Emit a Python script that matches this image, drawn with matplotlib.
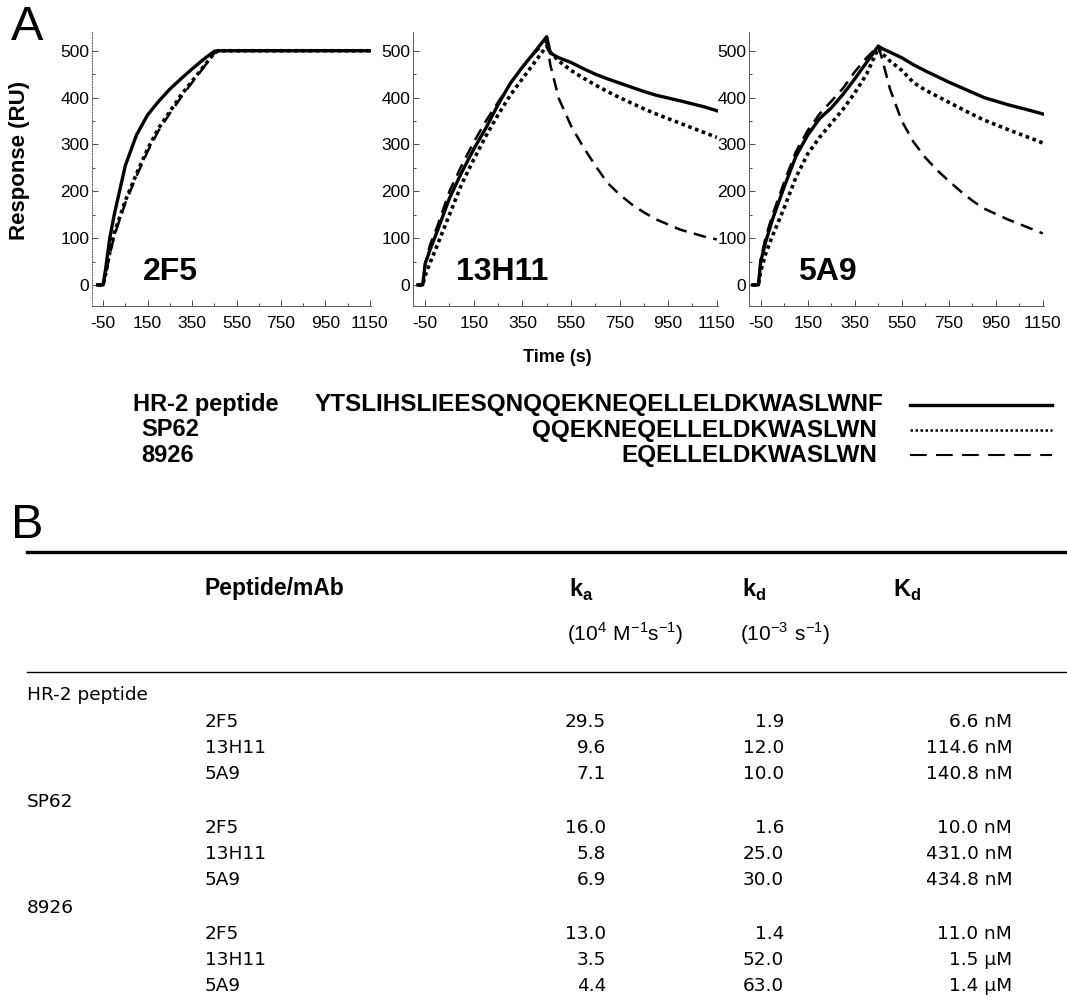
import numpy as np
import matplotlib
matplotlib.use("Agg")
import matplotlib.pyplot as plt

plt.rcParams['font.family'] = ['Liberation Sans', 'DejaVu Sans']
plt.rcParams['mathtext.fontset'] = 'custom'
plt.rcParams['mathtext.rm'] = 'Liberation Sans'
plt.rcParams['mathtext.bf'] = 'Liberation Sans:bold'
plt.rcParams['axes.unicode_minus'] = False

W, H = 1067, 1006

# --- sensorgram data (time in s, response in RU) ---
t_2f5 = [-75, -50, -40, -20, 0, 50, 100, 150, 200, 250, 300, 350, 400, 450, 470, 600, 800, 1000, 1150]
hr2_2f5 = [0, 0, 30, 100, 150, 255, 320, 363, 392, 418, 440, 461, 481, 499, 500, 500, 500, 500, 500]
sp62_2f5 = [0, 0, 20, 70, 110, 180, 237, 290, 335, 370, 405, 435, 465, 495, 500, 500, 500, 500, 500]
p8926_2f5 = [0, 0, 18, 65, 105, 175, 232, 285, 330, 366, 400, 432, 463, 495, 500, 500, 500, 500, 500]

t_13h11 = [-80, -60, -50, -30, 0, 50, 100, 150, 200, 250, 300, 350, 400, 450, 465, 500, 550,
           600, 650, 700, 750, 800, 850, 900, 1000, 1100, 1150]
hr2_13h11 = [0, 0, 45, 75, 115, 185, 240, 290, 335, 385, 430, 465, 497, 530, 495, 485, 475,
             462, 450, 440, 431, 422, 413, 405, 393, 380, 372]
sp62_13h11 = [0, 0, 20, 47, 85, 150, 215, 268, 318, 363, 405, 440, 475, 510, 497, 478, 458,
              442, 427, 413, 400, 388, 376, 365, 345, 325, 315]
p8926_13h11 = [0, 0, 45, 85, 125, 200, 255, 305, 350, 390, 430, 465, 495, 520, 470, 398, 340,
               295, 255, 218, 193, 172, 155, 140, 118, 103, 97]

t_5a9 = [-85, -60, -50, -30, 0, 50, 100, 150, 200, 250, 300, 350, 400, 450, 465, 500, 550,
         600, 650, 700, 750, 800, 850, 900, 1000, 1100, 1150]
hr2_5a9 = [0, 0, 50, 90, 140, 210, 275, 320, 355, 378, 407, 440, 475, 510, 505, 497, 485,
           470, 457, 445, 433, 422, 411, 400, 385, 372, 365]
sp62_5a9 = [0, 0, 30, 65, 105, 165, 230, 280, 315, 345, 375, 410, 450, 505, 495, 478, 458,
            432, 416, 403, 390, 377, 364, 352, 332, 313, 303]
p8926_5a9 = [0, 0, 55, 100, 150, 220, 285, 330, 365, 392, 420, 455, 485, 510, 485, 418, 350,
             305, 272, 245, 222, 200, 180, 163, 140, 120, 110]

antibodies = ["2F5", "13H11", "5A9"]
peptides = ["HR-2 peptide", "SP62", "8926"]
sequences = ["YTSLIHSLIEESQNQQEKNEQELLELDKWASLWNF", "QQEKNEQELLELDKWASLWN", "EQELLELDKWASLWN"]

# --- kinetics table ---
ka = [[29.5, 9.6, 7.1], [16.0, 5.8, 6.9], [13.0, 3.5, 4.4]]
kd = [[1.9, 12.0, 10.0], [1.6, 25.0, 30.0], [1.4, 52.0, 63.0]]
Kd = [[6.6, 114.6, 140.8], [10.0, 431.0, 434.8], [11.0, 1.5, 1.4]]
Kd_unit = [["nM", "nM", "nM"], ["nM", "nM", "nM"], ["nM", "µM", "µM"]]

panels = [
    (t_2f5, [hr2_2f5, sp62_2f5, p8926_2f5], (92, 371)),
    (t_13h11, [hr2_13h11, sp62_13h11, p8926_13h11], (413, 718)),
    (t_5a9, [hr2_5a9, sp62_5a9, p8926_5a9], (749, 1044)),
]
styles = [dict(ls='-', lw=2.4), dict(ls=(0, (1, 1)), lw=2.6), dict(ls=(0, (5, 3)), lw=1.8)]
leg_styles = [dict(ls='-', lw=2.4), dict(ls=(0, (1, 1)), lw=1.8), dict(ls=(0, (8, 4.5)), lw=1.5)]


def fx(x):
    return x / W


def fy(y):
    return 1 - y / H


fig = plt.figure(figsize=(W / 100, H / 100), dpi=100)

ytop, ybot = 32, 306
for i, (t, curves, (x0, x1)) in enumerate(panels):
    ax = fig.add_axes([fx(x0), fy(ybot), (x1 - x0) / W, (ybot - ytop) / H])
    for y, st in zip(curves, styles):
        ax.plot(t, y, color='black', **st)
    ax.set_xlim(-100, 1155)
    ax.set_ylim(-45, 540)
    ax.set_xticks(np.arange(-50, 1151, 200))
    ax.set_xticks(np.arange(50, 1100, 200), minor=True)
    ax.set_yticks(np.arange(0, 501, 100))
    ax.set_yticks(np.arange(50, 500, 100), minor=True)
    ax.tick_params(which='both', direction='in', labelsize=12.5, width=0.7, color='0.3')
    ax.tick_params(which='major', length=4)
    ax.tick_params(which='minor', length=2)
    ax.tick_params(axis='x', pad=7)
    ax.tick_params(axis='y', pad=2)
    for s in ['top', 'right']:
        ax.spines[s].set_visible(False)
    for s in ['left', 'bottom']:
        ax.spines[s].set_linewidth(0.7)
        ax.spines[s].set_color('0.35')
    if i == 0:
        ax.spines['left'].set_linestyle(':')
    ax.patch.set_alpha(0)

# panel labels
for name, xc in zip(antibodies, [170, 502, 827]):
    fig.text(fx(xc), fy(272), name, ha='center', va='center', fontsize=23, fontweight='bold')

fig.text(fx(11), fy(40), "A", ha='left', va='baseline', fontsize=35)
fig.text(fx(11), fy(538), "B", ha='left', va='baseline', fontsize=35)
fig.text(fx(20), fy(160), "Response (RU)", rotation=90, ha='center', va='center',
         fontsize=16, fontweight='bold')
fig.text(fx(557), fy(357), "Time (s)", ha='center', va='center', fontsize=13, fontweight='bold')

# legend of peptides
leg_y = [405, 430, 455]
leg_x = [133, 141, 141]
seq_end = [883, 877, 877]
for name, seq, y, x, xe, st in zip(peptides, sequences, leg_y, leg_x, seq_end, leg_styles):
    fig.text(fx(x), fy(y), name, ha='left', va='center', fontsize=17, fontweight='bold')
    fig.text(fx(xe), fy(y), seq, ha='right', va='center', fontsize=17.5, fontweight='bold')
    fig.add_artist(plt.Line2D([fx(910), fx(1052)], [fy(y), fy(y)], color='black',
                              transform=fig.transFigure, **st))

# table
fig.add_artist(plt.Line2D([fx(27), 1], [fy(552), fy(552)], color='black', lw=2.4,
                          transform=fig.transFigure))
fig.add_artist(plt.Line2D([fx(27), 1], [fy(672), fy(672)], color='black', lw=1.0,
                          transform=fig.transFigure))
fig.text(fx(205), fy(588), "Peptide/mAb", ha='left', va='center', fontsize=16.5, fontweight='bold')
fig.text(fx(569), fy(590), r"$\mathbf{k}_\mathbf{a}$", ha='left', va='center', fontsize=17)
fig.text(fx(742), fy(590), r"$\mathbf{k}_\mathbf{d}$", ha='left', va='center', fontsize=17)
fig.text(fx(893), fy(590), r"$\mathbf{K}_\mathbf{d}$", ha='left', va='center', fontsize=17)
fig.text(fx(567), fy(634), r"$(10^{4}\ \mathrm{M^{-1}s^{-1}})$", ha='left', va='center', fontsize=15)
fig.text(fx(740), fy(634), r"$(10^{-3}\ \mathrm{s^{-1}})$", ha='left', va='center', fontsize=15)

tfont = dict(fontsize=13.3, family='DejaVu Sans', va='center')
row_y = [[722, 748, 774], [828, 854, 880], [934, 960, 986]]
pep_y = [695, 802, 908]
for p in range(3):
    fig.text(fx(27), fy(pep_y[p]), peptides[p], ha='left', **tfont)
    for m in range(3):
        y = fy(row_y[p][m])
        fig.text(fx(205), y, antibodies[m], ha='left', **tfont)
        fig.text(fx(606), y, f"{ka[p][m]:.1f}", ha='right', **tfont)
        fig.text(fx(784), y, f"{kd[p][m]:.1f}", ha='right', **tfont)
        fig.text(fx(1012), y, f"{Kd[p][m]:.1f} {Kd_unit[p][m]}", ha='right', **tfont)

fig.savefig("out.png", dpi=100)
